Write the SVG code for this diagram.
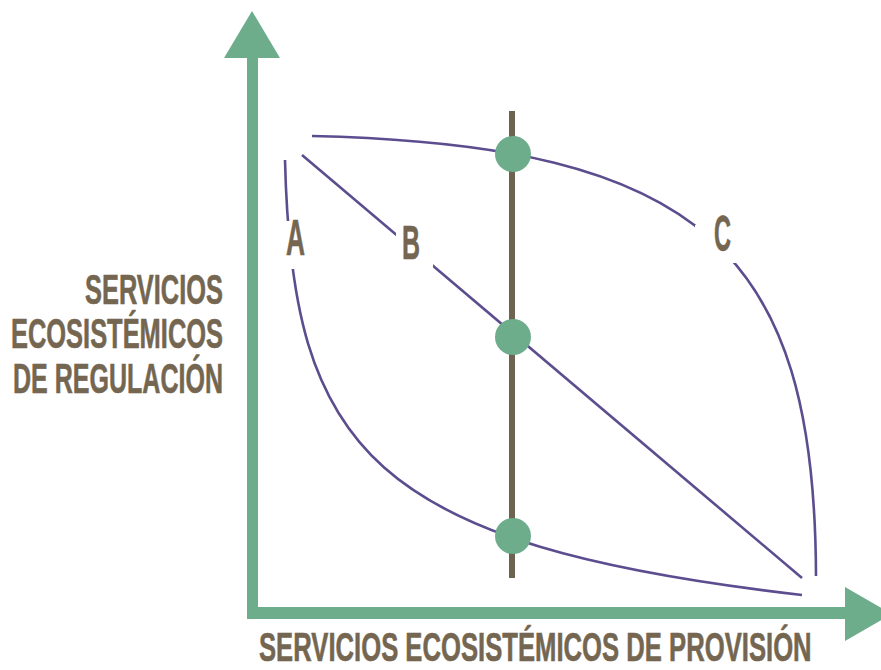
<svg xmlns="http://www.w3.org/2000/svg" width="881" height="670" viewBox="0 0 881 670">
<style>
.axis{fill:#6dad8c}
.curve{fill:none;stroke:#5c4d8f;stroke-width:2.6;stroke-linecap:butt}
.lbl{font-family:"Liberation Sans",Arial,sans-serif;font-weight:bold;fill:#746650;stroke:#746650;stroke-width:0.6}
.dot{fill:#6dad8c}
</style>
<defs>
<mask id="gaps" maskUnits="userSpaceOnUse" x="0" y="0" width="881" height="670">
<rect x="0" y="0" width="881" height="670" fill="#fff"/>
<rect x="280" y="221" width="26" height="48" fill="#000"/>
<rect x="396" y="226" width="37" height="44" fill="#000"/>
<rect x="695" y="225" width="41" height="38" fill="#000"/>
</mask>
</defs>
<rect width="881" height="670" fill="#fff"/>
<g id="axes">
<rect class="axis" x="247" y="57" width="11" height="562"/>
<rect class="axis" x="247" y="607" width="599" height="12"/>
<polygon class="axis" points="224,58 280,58 252,11"/>
<polygon class="axis" points="845,587 845,641 892,614"/>
</g>
<g id="connectors" mask="url(#gaps)">
<path id="curveA" class="curve" d="M285,160 C292,450 370,545 802,595"/>
<path id="lineB" class="curve" d="M302,155 L802,578"/>
<path id="curveC" class="curve" d="M312,136 C700,145 815,250 816,576"/>
</g>
<g id="vertical">
<rect x="509" y="111" width="6" height="467" fill="#6e6350"/>
</g>
<g id="point-top"><circle class="dot" cx="513" cy="154" r="18"/></g>
<g id="point-mid"><circle class="dot" cx="513" cy="337" r="18"/></g>
<g id="point-bottom"><circle class="dot" cx="513" cy="536" r="18"/></g>
<g id="label-A"><text class="lbl" x="286" y="255" font-size="50" textLength="19" lengthAdjust="spacingAndGlyphs">A</text></g>
<g id="label-B"><text class="lbl" x="402" y="259" font-size="48" textLength="18" lengthAdjust="spacingAndGlyphs">B</text></g>
<g id="label-C"><text class="lbl" x="714" y="251" font-size="50" textLength="17" lengthAdjust="spacingAndGlyphs">C</text></g>
<g id="y-label">
<text class="lbl" x="85" y="304" font-size="43" textLength="138" lengthAdjust="spacingAndGlyphs">SERVICIOS</text>
<text class="lbl" x="11" y="348" font-size="43" textLength="212" lengthAdjust="spacingAndGlyphs">ECOSISTÉMICOS</text>
<text class="lbl" x="13" y="393" font-size="43" textLength="210" lengthAdjust="spacingAndGlyphs">DE REGULACIÓN</text>
</g>
<g id="x-label">
<text class="lbl" transform="translate(259,661) scale(0.612,1)" x="0" y="0" font-size="41" textLength="903" lengthAdjust="spacingAndGlyphs">SERVICIOS ECOSISTÉMICOS DE PROVISIÓN</text>
</g>
</svg>
